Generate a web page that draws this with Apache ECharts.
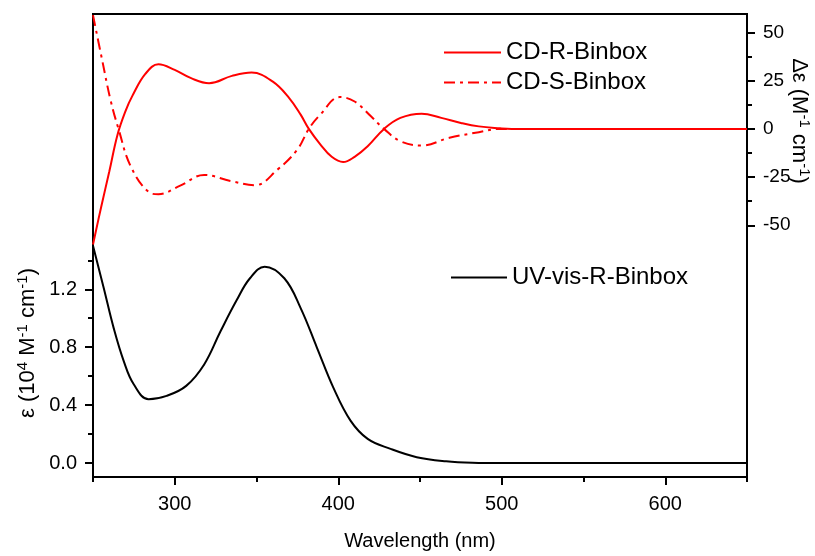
<!DOCTYPE html>
<html><head><meta charset="utf-8">
<script src="https://cdn.jsdelivr.net/npm/echarts@6/dist/echarts.min.js"></script>
<style>html,body{margin:0;padding:0;background:#fff}#c{width:815px;height:556px}</style>
</head><body><div id="c"></div>
<script>
// ---- data ----
const cdRWave = [250,255,260,265,270,274,282,290,300,310,321,335,347,360,370,377,382,389,396,403,410,418,428,438,451,463,475,486,499,506,520,560,600,650];
const cdRVal  = [-60,-40.5,-22,-3,9.5,17,28.5,33.5,30.6,26.3,23.7,27.5,29.2,24.5,16,7.4,0,-8,-14.5,-17.2,-14.5,-9,0,5.7,7.9,5.7,3.1,1.3,0.3,0,0,0,0,0];
const cdSWave = [250,255.6,260.7,265.6,273,284,290,303,318,334,349,363,375,382,389,401,410,420,428,438,451,468,486,499,506,560,600,650];
const cdSVal  = [59,35.7,15.1,0,-19.3,-32.7,-33.9,-29.6,-23.9,-27,-29.2,-21,-10.7,0,7.4,16.5,14.2,6.5,0,-6.4,-8.6,-4.6,-1.7,0,0,0,0,0];
const uvWave  = [250,256.6,262.7,268.8,274.9,284,295,307,318,328,338,346,355,367,377,387,397,407.5,418,432,448,466,482,500,550,600,650];
const uvVal   = [1.5,1.207,0.93,0.704,0.544,0.441,0.464,0.533,0.681,0.91,1.127,1.276,1.356,1.276,1.07,0.796,0.521,0.293,0.167,0.098,0.041,0.012,0.002,0,0,0,0];

const xMajorTicks = [300,400,500,600];
const epsTicks = [0,0.4,0.8,1.2];
const epsMinorTicks = [0.2,0.6,1.0,1.4];
const deltaTicks = [50,25,0,-25,-50];
const deltaMinorTicks = [37.5,12.5,-12.5,-37.5];

const FONT = "'Liberation Sans', Arial, sans-serif";
const zip = (xs, ys) => xs.map((x, i) => [x, ys[i]]);

const chart = echarts.init(document.getElementById('c'), null, {renderer: 'canvas'});
const axisLine = {show: true, onZero: false, lineStyle: {color: '#000', width: 2}};
const EPS_MIN = -0.096, EPS_MAX = 3.1, D_MIN = -180.6, D_MAX = 59.6;

chart.setOption({
  animation: false,
  backgroundColor: '#fff',
  grid: {left: 93, right: 68, top: 14, bottom: 76, show: true, borderColor: '#000', borderWidth: 2, backgroundColor: 'transparent'},
  legend: [
    {data: ['CD-R-Binbox', 'CD-S-Binbox'], orient: 'vertical', left: 443, top: 40.5, padding: 0,
     itemWidth: 57, itemHeight: 14, itemGap: 6, itemStyle: {opacity: 0},
     textStyle: {fontFamily: FONT, fontSize: 24, color: '#000', lineHeight: 24}},
    {data: ['UV-vis-R-Binbox'], orient: 'vertical', left: 450, top: 265.5, padding: 0,
     itemWidth: 56, itemHeight: 14, itemStyle: {opacity: 0},
     textStyle: {fontFamily: FONT, fontSize: 24, color: '#000', lineHeight: 24}}
  ],
  xAxis: [
    {type: 'value', min: 250, max: 650, position: 'bottom',
     axisLine: axisLine, splitLine: {show: false},
     axisTick: {show: true, inside: false, length: 8, customValues: xMajorTicks, lineStyle: {color: '#000', width: 2}},
     axisLabel: {customValues: xMajorTicks, margin: 17, fontFamily: FONT, fontSize: 20, color: '#000'},
     name: 'Wavelength (nm)', nameLocation: 'middle', nameGap: 54,
     nameTextStyle: {fontFamily: FONT, fontSize: 20, color: '#000'}},
    {type: 'value', min: 250, max: 650, interval: 50, position: 'bottom',
     axisLine: {show: false, onZero: false}, splitLine: {show: false}, axisLabel: {show: false},
     axisTick: {show: true, length: 5, lineStyle: {color: '#000', width: 2}}}
  ],
  yAxis: [
    {type: 'value', min: EPS_MIN, max: EPS_MAX, position: 'left',
     axisLine: axisLine, splitLine: {show: false},
     axisTick: {show: true, length: 8, customValues: epsTicks, lineStyle: {color: '#000', width: 2}},
     axisLabel: {customValues: epsTicks, margin: 16, fontFamily: FONT, fontSize: 20, color: '#000',
                 formatter: v => v.toFixed(1)}},
    {type: 'value', min: D_MIN, max: D_MAX, position: 'right',
     axisLine: axisLine, splitLine: {show: false},
     axisTick: {show: true, length: 8, customValues: deltaTicks, lineStyle: {color: '#000', width: 2}},
     axisLabel: {customValues: deltaTicks, margin: 16, fontFamily: FONT, fontSize: 19, color: '#000',
                 formatter: v => String(Math.round(v))}},
    {type: 'value', min: EPS_MIN, max: EPS_MAX, position: 'left',
     axisLine: {show: false, onZero: false}, splitLine: {show: false}, axisLabel: {show: false},
     axisTick: {show: true, length: 5, customValues: epsMinorTicks, lineStyle: {color: '#000', width: 2}}},
    {type: 'value', min: D_MIN, max: D_MAX, position: 'right',
     axisLine: {show: false, onZero: false}, splitLine: {show: false}, axisLabel: {show: false},
     axisTick: {show: true, length: 5, customValues: deltaMinorTicks, lineStyle: {color: '#000', width: 2}}}
  ],
  series: [
    {name: 'CD-R-Binbox', type: 'line', xAxisIndex: 0, yAxisIndex: 1, data: zip(cdRWave, cdRVal),
     symbol: 'none', smooth: 0.4, lineStyle: {color: '#ff0000', width: 2}, itemStyle: {color: '#ff0000'}},
    {name: 'CD-S-Binbox', type: 'line', xAxisIndex: 0, yAxisIndex: 1, data: zip(cdSWave, cdSVal),
     symbol: 'none', smooth: 0.4, lineStyle: {color: '#ff0000', width: 2, type: [11, 5, 3, 5]}, itemStyle: {color: '#ff0000'}},
    {name: 'UV-vis-R-Binbox', type: 'line', xAxisIndex: 0, yAxisIndex: 0, data: zip(uvWave, uvVal),
     symbol: 'none', smooth: 0.4, lineStyle: {color: '#000', width: 2}, itemStyle: {color: '#000'}}
  ],
  graphic: [
    {type: 'text', x: 28, y: 343, rotation: Math.PI / 2,
     style: {text: '{n|ε (10}{s|4}{n| M}{s|-1}{n| cm}{s|-1}{n|)}', align: 'center', verticalAlign: 'middle',
       rich: {n: {fontFamily: FONT, fontSize: 22, fill: '#000', lineHeight: 26},
              s: {fontFamily: FONT, fontSize: 15, fill: '#000', verticalAlign: 'top', lineHeight: 15}}}},
    {type: 'text', x: 799, y: 121, rotation: -Math.PI / 2,
     style: {text: '{n|Δε (M}{s|-1}{n| cm}{s|-1}{n|)}', align: 'center', verticalAlign: 'middle',
       rich: {n: {fontFamily: FONT, fontSize: 22, fill: '#000', lineHeight: 26},
              s: {fontFamily: FONT, fontSize: 15, fill: '#000', verticalAlign: 'top', lineHeight: 15}}}}
  ]
});
</script></body></html>
